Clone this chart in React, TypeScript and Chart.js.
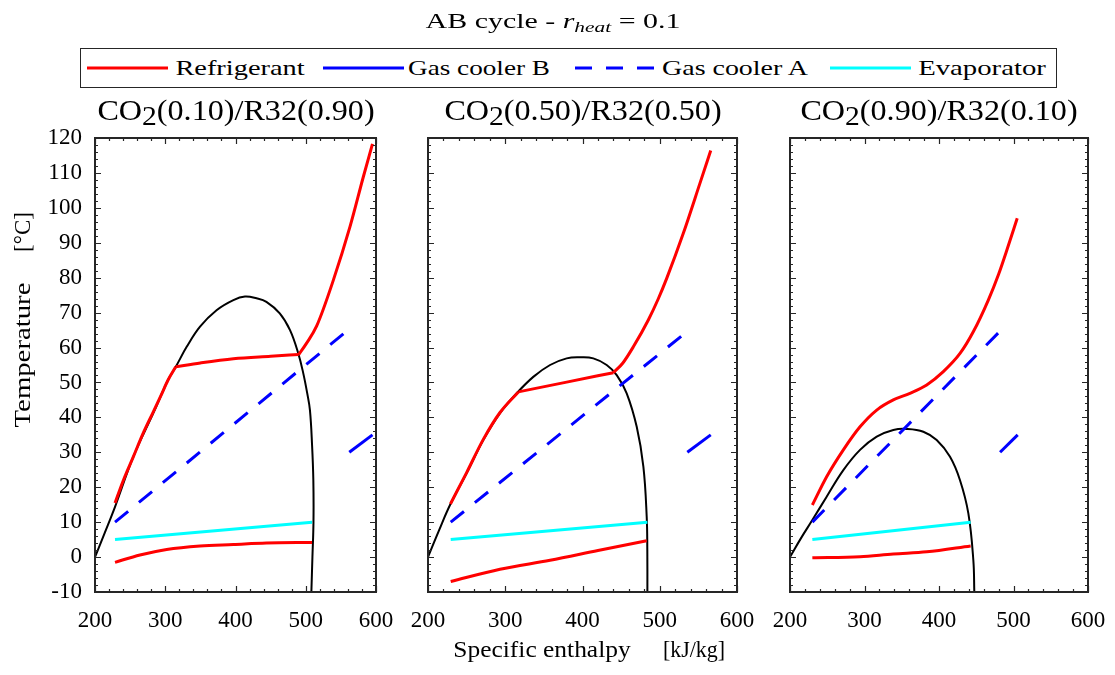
import React, { useEffect, useLayoutEffect, useRef, useState } from 'react';
import { Chart, registerables } from 'chart.js';

Chart.register(...registerables);

// ---------------- data ----------------
const xTickValues = [200, 300, 400, 500, 600];
const yTickValues = [-10, 0, 10, 20, 30, 40, 50, 60, 70, 80, 90, 100, 110, 120];
const co2Fractions = ['0.10', '0.50', '0.90'];
const r32Fractions = ['0.90', '0.50', '0.10'];
const legendLabels = ['Refrigerant', 'Gas cooler B', 'Gas cooler A', 'Evaporator'];
const rHeat = 0.1;

// panel 1 : CO2(0.10)/R32(0.90)   [enthalpy kJ/kg, temperature °C]
const dome1 = [[200, 0], [214, 7], [228.5, 14.4], [254.5, 28.7], [283, 41.2], [304, 50.7], [315, 54.5], [330.5, 60.2], [349.5, 66], [373, 70.7], [397, 73.6], [413.5, 74.6], [430, 74.1], [444, 73.1], [463, 69.8], [477.6, 65], [489.4, 58.3], [496.5, 52.6], [502, 47], [506, 42], [509, 32], [510.8, 22], [511, 10], [509.5, 0], [508, -10]];
const liq1 = [[228.5, 15.5], [240, 21.8], [254.5, 28.7], [268, 35.2], [283, 41.6], [294, 46.3], [304, 50.7], [315, 54.5]];
const cond1 = [[315, 54.5], [350, 55.6], [397, 56.8], [450, 57.5], [490, 58]];
const vap1 = [[490, 58], [501, 61.2], [515.6, 66.2], [539.3, 79.3], [563, 94.6], [582, 108.9], [595, 118.3]];
const refLow1 = [[228.5, -1.5], [264, 0.6], [302, 2.2], [349.5, 3.2], [397, 3.6], [444, 4.0], [509, 4.2]];
const evap1 = [[228.5, 5], [509, 10]];
const gcA1 = [[228.5, 10], [560, 65]];
const gcB1 = [[562, 30], [595, 35]];

// panel 2 : CO2(0.50)/R32(0.50)
const dome2 = [[200, 0], [214, 7.5], [228.5, 14.9], [250, 24], [271.6, 33.5], [293.2, 41.2], [314.8, 46.9], [336.3, 51.6], [358, 55], [379.5, 56.9], [396.8, 57.2], [414, 56.9], [431.3, 55], [444.3, 52.1], [457.2, 46.9], [470.2, 37.3], [478.8, 25.9], [483.1, 11.6], [483.9, 2], [484, -10]];
const liq2 = [[229, 15.2], [250, 24.2], [271.6, 33.7], [293.2, 41.4], [317, 47.3]];
const cond2 = [[317, 47.3], [379.5, 50.1], [440, 52.8]];
const vap2 = [[440, 52.8], [452, 55.5], [465.8, 60.2], [485.2, 67.9], [498, 73.9], [509, 79.8], [530.5, 92.7], [552, 107], [566, 116.4]];
const refLow2 = [[229.4, -7], [293.2, -3.5], [358, -0.9], [420, 1.9], [483.1, 4.7]];
const evap2 = [[229.4, 5], [484, 10]];
const gcA2 = [[229.4, 10], [535, 64.5]];
const gcB2 = [[535.7, 30], [566, 35]];

// panel 3 : CO2(0.90)/R32(0.10)
const dome3 = [[200, 0], [215, 5.5], [230, 10.6], [249.2, 17.3], [271.6, 24.9], [294, 30.7], [316.4, 34.5], [338.7, 36.4], [356.6, 36.7], [379, 35.9], [396.9, 33.5], [414.8, 28.7], [428.2, 22], [439.4, 12.5], [446.1, -0.9], [447.4, -10]];
const ref3 = [[230, 14.9], [249.2, 23], [271.6, 30.7], [294, 37.3], [316.4, 42.1], [338.7, 45], [361, 46.9], [383.5, 49.3], [405.8, 53.1], [428.2, 58.3], [446, 64.5], [466.2, 73.6], [480, 81], [492, 88.5], [505, 97]];
const refLow3 = [[230, -0.2], [294, 0.1], [338.7, 0.9], [383.5, 1.5], [442.5, 3.2]];
const evap3 = [[230, 5], [442.5, 10]];
const gcA3 = [[230, 10], [481, 64.5]];
const gcB3 = [[482, 30], [505.6, 35]];

const panelSeries = [
  { dome: dome1, refHigh: [liq1, cond1, vap1], refLow: refLow1, evap: evap1, gcA: gcA1, gcB: gcB1 },
  { dome: dome2, refHigh: [liq2, cond2, vap2], refLow: refLow2, evap: evap2, gcA: gcA2, gcB: gcB2 },
  { dome: dome3, refHigh: [ref3], refLow: refLow3, evap: evap3, gcA: gcA3, gcB: gcB3 },
];

// ---------------- layout / style ----------------
const W = 1115;
const H = 675;
const FONT = '"Liberation Serif", "Times New Roman", serif';
const AXIS = '#262626';
const RED = '#ff0000';
const BLUE = '#0000ff';
const CYAN = '#00ffff';
const BLACK = '#000000';
const DASH = [17, 14];
const PLOT_TOP = 138;
const PLOT_BOTTOM = 592;
const X_MIN = 200, X_MAX = 600, X_MINOR = 20, X_MAJOR = 100;
const Y_MIN = -10, Y_MAX = 120, Y_MINOR = 2, Y_MAJOR = 10;
const PANELS = [
  { canvasLeft: 0, canvasWidth: 400, left: 95, right: 376 },
  { canvasLeft: 400, canvasWidth: 360, left: 428, right: 737 },
  { canvasLeft: 760, canvasWidth: 355, left: 790, right: 1088 },
];
const BASE = 0.8375; // baseline offset (em) for line-height 1 with Liberation Serif

const framePlugin = {
  id: 'frameTicks',
  afterDatasetsDraw(chart: any) {
    const { ctx, chartArea: a, scales } = chart;
    const xs = scales.x;
    const ys = scales.y;
    ctx.save();
    ctx.strokeStyle = AXIS;
    ctx.lineWidth = 1.2;
    ctx.beginPath();
    for (let v = X_MIN; v <= X_MAX + 1e-6; v += X_MINOR) {
      const major = Math.abs(((v - X_MIN) / X_MAJOR) - Math.round((v - X_MIN) / X_MAJOR)) < 1e-6;
      const len = major ? 6 : 3;
      const px = Math.round(xs.getPixelForValue(v)) + 0.5;
      ctx.moveTo(px, a.bottom);
      ctx.lineTo(px, a.bottom - len);
      ctx.moveTo(px, a.top);
      ctx.lineTo(px, a.top + len);
    }
    for (let v = Y_MIN; v <= Y_MAX + 1e-6; v += Y_MINOR) {
      const major = Math.abs(((v - Y_MIN) / Y_MAJOR) - Math.round((v - Y_MIN) / Y_MAJOR)) < 1e-6;
      const len = major ? 6 : 3;
      const py = Math.round(ys.getPixelForValue(v)) + 0.5;
      ctx.moveTo(a.left, py);
      ctx.lineTo(a.left + len, py);
      ctx.moveTo(a.right, py);
      ctx.lineTo(a.right - len, py);
    }
    ctx.stroke();
    ctx.lineWidth = 2;
    ctx.strokeRect(a.left, a.top, a.right - a.left, a.bottom - a.top);
    ctx.restore();
  },
};

const toXY = (arr: number[][]) => arr.map(([x, y]) => ({ x, y }));

function lineDs(data: number[][], color: string, order: number, opts: any = {}) {
  return {
    data: toXY(data),
    borderColor: color,
    backgroundColor: color,
    borderWidth: opts.width ?? 3,
    borderDash: opts.dash ?? [],
    pointRadius: 0,
    tension: opts.tension ?? 0,
    cubicInterpolationMode: opts.mono ? 'monotone' : 'default',
    fill: false,
    order,
    showLine: true,
  };
}

// invisible grid whose tick length only offsets the labels from the axis
const hiddenGrid = (len: number) => ({
  display: true,
  drawOnChartArea: false,
  drawTicks: true,
  tickLength: len,
  color: 'rgba(0,0,0,0)',
});

function Panel({ idx }: { idx: number }) {
  const ref = useRef<HTMLCanvasElement>(null);
  const b = PANELS[idx];
  useEffect(() => {
    const s = panelSeries[idx];
    const tickFont = { family: FONT, size: 23 };
    const chart = new Chart(ref.current as HTMLCanvasElement, {
      type: 'line',
      data: {
        datasets: [
          ...s.refHigh.map((seg) => lineDs(seg, RED, 1, { mono: true })),
          lineDs(s.refLow, RED, 1, { mono: true }),
          lineDs(s.gcA, BLUE, 2, { dash: DASH }),
          lineDs(s.gcB, BLUE, 3),
          lineDs(s.evap, CYAN, 4),
          lineDs(s.dome, BLACK, 5, { width: 2, tension: 0.4 }),
        ] as any,
      },
      options: {
        animation: false,
        responsive: false,
        devicePixelRatio: 1,
        events: [],
        layout: { padding: { top: PLOT_TOP, left: 0, bottom: 0, right: b.canvasLeft + b.canvasWidth - b.right } },
        plugins: { legend: { display: false }, tooltip: { enabled: false }, title: { display: false } },
        scales: {
          x: {
            type: 'linear',
            min: X_MIN,
            max: X_MAX,
            afterBuildTicks: (sc: any) => { sc.ticks = xTickValues.map((v) => ({ value: v })); },
            ticks: { font: tickFont, color: '#000', padding: 0, maxRotation: 0, autoSkip: false, callback: (v: any) => String(v) },
            grid: hiddenGrid(15),
            border: { display: false },
            afterFit: (sc: any) => { sc.height = H - PLOT_BOTTOM; },
          },
          y: {
            type: 'linear',
            min: Y_MIN,
            max: Y_MAX,
            afterBuildTicks: (sc: any) => { sc.ticks = yTickValues.map((v) => ({ value: v })); },
            ticks: { display: idx === 0, font: tickFont, color: '#000', padding: 0, autoSkip: false, callback: (v: any) => String(v) },
            grid: hiddenGrid(13),
            border: { display: false },
            afterFit: (sc: any) => { sc.width = b.left - b.canvasLeft; },
          },
        },
      } as any,
      plugins: [framePlugin],
    });
    return () => chart.destroy();
  }, [idx]);
  return (
    <canvas
      ref={ref}
      width={b.canvasWidth}
      height={H}
      style={{ position: 'absolute', left: b.canvasLeft, top: 0, width: b.canvasWidth, height: H }}
    />
  );
}

function FitText({ x, y, width, size, rotate = false, children }: any) {
  const ref = useRef<HTMLDivElement>(null);
  const [k, setK] = useState(1);
  useLayoutEffect(() => {
    const w = ref.current ? ref.current.offsetWidth : 0;
    if (w > 0) setK(width / w);
  }, [width]);
  const style: any = {
    position: 'absolute',
    whiteSpace: 'nowrap',
    fontFamily: FONT,
    fontSize: size,
    lineHeight: `${size}px`,
    color: '#000',
    left: x,
    top: rotate ? y : y - BASE * size,
    transform: rotate
      ? `translate(-50%, -50%) rotate(-90deg) scaleX(${k})`
      : `translateX(-50%) scaleX(${k})`,
    transformOrigin: '50% 50%',
  };
  return <div ref={ref} style={style}>{children}</div>;
}

const legendItems = [
  { line: [87, 168], color: RED, dash: false, text: [239.5, 129] },
  { line: [323, 404], color: BLUE, dash: false, text: [479, 142] },
  { line: [575, 656], color: BLUE, dash: true, text: [735, 146] },
  { line: [830, 911], color: CYAN, dash: false, text: [982, 128] },
];

export default function App() {
  return (
    <div style={{ position: 'absolute', left: 0, top: 0, width: W, height: H, background: '#fff', overflow: 'hidden' }}>
      {PANELS.map((_, i) => <Panel key={i} idx={i} />)}

      {/* main title */}
      <FitText x={553} y={29} width={255} size={21}>
        AB cycle - <i>r</i>
        <i style={{ fontSize: 15, position: 'relative', top: 4 }}>heat</i> = {rHeat}
      </FitText>

      {/* legend */}
      <div style={{ position: 'absolute', left: 80, top: 48, width: 977, height: 40, border: `1.5px solid ${AXIS}`, boxSizing: 'border-box', background: '#fff' }} />
      <svg width={W} height={100} style={{ position: 'absolute', left: 0, top: 0 }}>
        {legendItems.map((it, i) => (
          <line key={i} x1={it.line[0]} x2={it.line[1]} y1={68} y2={68} stroke={it.color} strokeWidth={3} strokeDasharray={it.dash ? '17 14' : undefined} />
        ))}
      </svg>
      {legendItems.map((it, i) => (
        <FitText key={i} x={it.text[0]} y={75} width={it.text[1]} size={22}>{legendLabels[i]}</FitText>
      ))}

      {/* subplot titles */}
      {PANELS.map((p, i) => (
        <FitText key={i} x={(p.left + p.right) / 2} y={120} width={277} size={29}>
          CO<span style={{ position: 'relative', top: 5, fontSize: '0.92em' }}>2</span>({co2Fractions[i]})/R32({r32Fractions[i]})
        </FitText>
      ))}

      {/* axis titles */}
      <FitText x={541.5} y={657} width={177} size={23}>Specific enthalpy</FitText>
      <FitText x={694} y={657} width={62} size={23}>[kJ/kg]</FitText>
      <FitText x={22} y={354.5} width={145} size={23} rotate>Temperature</FitText>
      <FitText x={22} y={232} width={40} size={23} rotate>[°C]</FitText>
    </div>
  );
}
